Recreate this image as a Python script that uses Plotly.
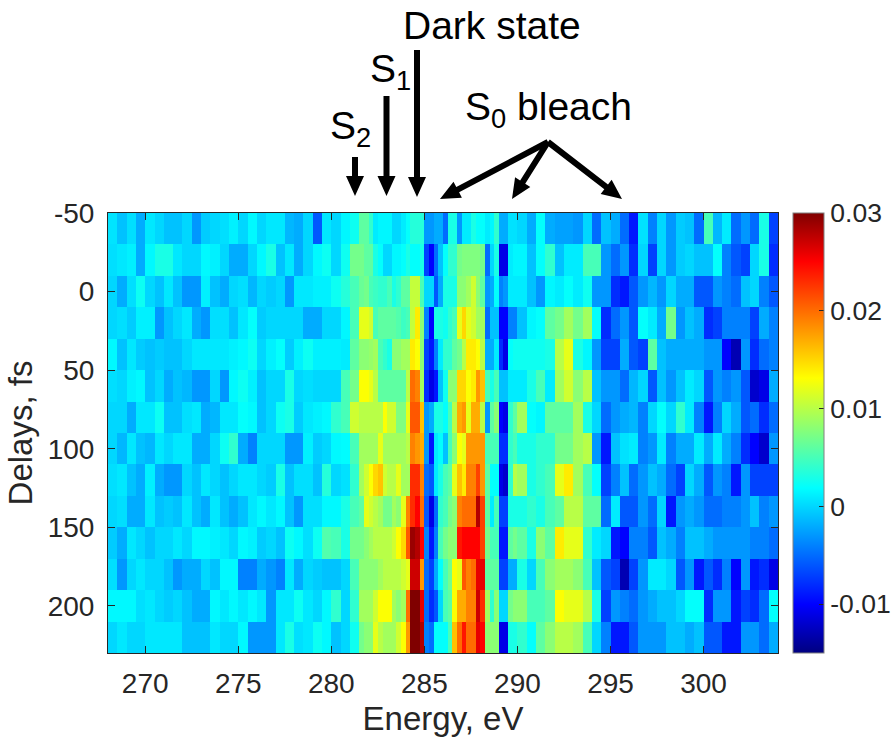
import numpy as np
import plotly.graph_objects as go

delays = [-40, -20, 0, 20, 40, 60, 80, 100, 120, 140, 160, 180, 200, 220]
energy_edges = np.concatenate([np.arange(268, 281.5, 0.5), np.arange(281.5, 290, 0.25), np.arange(290, 304.01, 0.5)])

# values in units of 0.001; low-energy part (268-281.5 eV, 0.5 eV columns)
low = [
 [0.6,-1,0.4,-2,0.8,0,-1,-1,0,-3,-0.5,0,0.4,1.2,0,1.6,0,0.8,0.8,-1.5,-2,0,-6,0.8,0,1.5,2.5],
 [0.4,0.8,1.2,-2,1.6,3,3,0.8,0,0,1.6,1.2,0,-2,-2,0,1.6,3,-1,0.8,-2,0,1.6,2.4,0,2.5,7],
 [0,-2,0.4,2.4,0,-1,0.8,-1,-3,-3,1.2,-1,-2,0,0.4,-1.5,0,-0.5,0,-3,0.8,0.8,1.2,1.2,2.4,3.5,5],
 [0,0.4,-0.5,1.2,1.2,-3,-1,0,0.8,-2,-3,0.4,0.4,-1,0.8,2,-0.5,0,0,0,0,-2,-2,0,0,1.5,5],
 [1.6,-1,0.8,-0.5,-1,-0.5,-1,-1,0,0.8,0.8,0.8,0.8,1.2,1.6,2.4,0,1.2,2,-0.5,1.2,2.4,1.2,1.2,1.2,1,6],
 [0.4,0,1.2,1.6,-1,0,-2,-1,-1.5,-3,-3,0,-3,1.6,2.4,1.2,-1,0,0,3,0,0.4,0,0,0,5,7],
 [0,0,-2,0.8,0.8,2.4,-1,-1,0.4,0.8,-2,-1.5,0.8,0.8,2,1.6,-1,0,2.4,3,-0.5,0.8,1.2,1.6,4,5,11],
 [0,-1.5,0.8,-1,-1.5,0.8,0,0.8,0.8,-2,-2,0,2.4,4,-2,-4,0,0,0,-3,-3,1.2,-0.5,0,1.6,1.8,5],
 [0.4,0.8,-1,-2,1.2,-2,-3,-3,0,-1,0.8,0,-1,0,0.8,0.8,0,-0.5,3,-1,0.4,0.4,-1,3.5,0,0.5,4],
 [0,0.4,-2,-2,0.8,-1,-0.5,-1,0.8,-1,-2,0.8,-1,-2,-1,0.8,1.6,0.8,1.6,-1,-3,0.4,0.4,1.6,1.6,3,5],
 [-0.5,-2,0.8,0,-1,0,0,0.8,0,1.6,1.6,1.2,0.8,0,1.6,1.2,-0.5,0,-1,2.4,1.6,0.4,2.4,5.5,5,3,7],
 [0.4,-3,0,0.8,0,0,-1,-3,-2,-2,0,-1,1.6,1.6,-4,-4,-2,-3,-4,0.8,-2,0,-0.5,-1,-1,0,5],
 [1.6,1.6,1.6,0.4,0.8,0,-0.5,0,-1,-2,-2,1.6,0.8,1.6,0.8,1.6,0.8,-3,0.8,0.8,2.4,0.8,0,1.6,4,0,4],
 [0,0.8,0,0,0.8,0.8,0.8,0.8,-1,-1,-1,0.8,0,0,1.6,-3,-3,-3,0.8,3,0.4,0.8,2.4,1.6,-1,0,2.5],
]

# central part (281.5-290 eV, 0.25 eV columns)
mid = [
 [6,6,4,1,1.5,1.5,1.5,0,0,1,2,3.5,3.5,3.5,-3,-3,-2,-2,-5,3,3,-3,1,1,3,2,2,1,1.5,4,-2,-2,0.5,0.5],
 [7,6,6,3,2,0,0,1.5,1.5,2,3,2,2,3,-7,-10,-5,-1,2,4,4,7,7.5,7.5,7.5,7.5,7,-5,0,3,-11,-11,1,1.5],
 [6.5,7,5,4.5,4,4,5,3,4,6,6,10.5,10.5,5,0,0,-6,-2,3,3,3,8,8,9,11,8,6,-3,-2,2,-4,-3,1,1],
 [12,12,11,5,6,6,6,6,5.5,4.5,5,10.5,14,8,-4,-10,3,3,2.5,4,5,12,15,12,11,9,9,-5,-1,-1,-10,-10,-4,-4],
 [8,8,8.5,9,5,4,3,8,8,9,9,14,13,8,-7,-9,-4,1,4,4,6,7,10,14,14,13,10,-2,-2,1,-8,-11,2,2.5],
 [13,13,12,10,6,6,6,6,6,6,10,20,19,9,-8,-11,-9,-1,2.5,8,8,15,15,13,14,18,16,5,3,5,-1,-1,1,1],
 [10,10,10,10,10,13,11,11,7.5,7.5,12,21,21,16,-3,-2,3,3,2,5,10,17,18,12,17,17,10,-3,6,8,-10,-11,4,6],
 [9,9,9,9,12,9,9,9,9,9,10,19,18,17,-3,-9,1,2,-1,5,8,13,12,18,18,18,18,5,5,5,-8,-8,4,5],
 [9,11,13,15,16,11,10,10,12,9,9,23,23,19,-5,-6,1,3,5,6,12,16,14,19,19,22,18,6,2,2,-11,-12,4,10],
 [6,12,11,10,9,7,7,9,8,12,19,23,25,20,-6,-11,-5,4,5,7,8,19,20,20,20,28,22,6,1,5,-7,-7,3,3],
 [7,8,9,10,10,10,10,11,13,15,21,29,28,25,-4,-9,-4,5,7,8,8,24,25,25,25,25,22,7,5,5,-9,-9,6,7],
 [8,8,8,8,9,10,10,10,10,11,12,27,27,18,-5,-7,-2,2,5,7,13,12,21,19,20,26,26,6,6,6,-7,-7,-2,-2],
 [9,9,9,11,13,13,13,9,8,9,20,30,30,26,-5,-8,-6,0,5,6,13,17,17,19,19,27,23,9,4,8,0,0,7,8],
 [7,8,8,12,10,9,9,9,11,13,18,30,30,28,-4,-5,2,2,2,5,16,20,24,20,20,26,25,8,8,8,-11,-11,3,3],
]

# high-energy part (290-304 eV, 0.5 eV columns)
high = [
 [0,-2,2,-2,-2.5,-2.5,-3,0,-5,-1,-2,-5,-9,0.5,-4,0,-3,-0.5,-1,-5,5,-1.5,1,-5,-3,-5,3,-7],
 [1.5,-1,2,4,-1,1,1,5,5,-3,-5,-3,-8,0,-7,0,-3,-0.5,0,-1,-1,2,-4,-6,-7,0,3,-8],
 [1,-1,-3,1.5,1,2,1,2.5,-3,-3,-8,-9,-6,-3,-1.5,-3,0,-2,-2,-6,-6,-3,-4,-5,-1,0,-4,-6],
 [-1,1.5,2,6,7,9,7,9,2,-8,-5,-3,-6,2,1,-2,7,-3,-1,-2,-8,-7,-4,-4,-4,-7,-2,-4],
 [2.5,2.5,2.5,3,10,12,3,1.5,-3,-7,-7,-2,-6,-7,6,-1,-2,-2,-2,-2,-3,-3,-10,-13,-3,-8,-5,-4],
 [1,3,5,1,9,11,8,10,-1,-3,-3,-5,-1.5,0,-6,-1,-3,-1,1,0,-6,-3,-4,-3,-6,-12,-11,-2],
 [9,2,1.5,6,6,6,9,3,0,-5,-3,-2,-1.5,-4,0,2,0,4,1,-4,-9,-4,0,-2,-6,-5,-8,-5],
 [3,3,4,4,7,7,9,10,-3,-9,-1,0.5,1,-4,-3,1,-4,-2,-2,1,-2,1,-2,-4,-8,-10,-12,-3],
 [9,3,4,5,12,14,9,5,2,-7,-4,-1,-5,-3,-1,-2,-5,-7,0,-2,-6,-3,-4,-9,-3,-7,-7,-7],
 [3,4,3,5,6,10,10,6,6,-5,1,-6,-6,-3,-5,0,-9,-3,-2,-3,-5,-5,-4,-4,-3,-1,-4,-3],
 [6,3,8,6,14,12,12,4,1,0,-9,-10,-4,-4,-6,-1,-2,-4,-1,-1,-2,-3,-3,-3,-3,-4,-4,-5],
 [3,0,5,8,9,9,8,5,-1,-6,-7,-13,-7,-3,1,1,0,-6,-3,-9,-6,-8,-4,-10,-3,-9,-8,-11],
 [8,5,5,6,13,12,12,10,3,-7,-3,-4,-5,-3,-2,-1,-1,0,2,2,-8,-3,-3,-9,-7,-8,-5,2],
 [4,2,6,8,10,10,9,5,0,-4,-9,-9,-6,-3,-3,-3,-1,-1,-2,-1,-6,-6,-9,-9,-3,-3,-5,-2],
]

x_ticks = [270, 275, 280, 285, 290, 295, 300]
y_ticks = [-50, 0, 50, 100, 150, 200]
y_labels = ["-50", "0", "50", "100", "150", "200"]
cbar_ticks = [0.03, 0.02, 0.01, 0, -0.01]
cbar_labels = ["0.03", "0.02", "0.01", "0", "-0.01"]

signal = np.hstack([np.array(low), np.array(mid), np.array(high)]) * 0.001

jet = [[0, "#000080"], [0.11, "#0000ff"], [0.375, "#00ffff"], [0.625, "#ffff00"], [0.89, "#ff0000"], [1, "#800000"]]
FONT = "Liberation Sans, Arial, sans-serif"
INK = "#262626"

PW, PH = 670.0, 440.0
def px(xp):
    return (xp - 108) / PW
def py(yp):
    return (653 - yp) / PH

fig = go.Figure(go.Heatmap(
    x=energy_edges, y=delays, z=signal, colorscale=jet, zmin=-0.015, zmax=0.03,
    colorbar=dict(
        x=px(793), xanchor="left", xpad=0, y=0.5, yanchor="middle", ypad=0, len=1, lenmode="fraction",
        thickness=31, thicknessmode="pixels", tickmode="array", tickvals=cbar_ticks, ticktext=cbar_labels,
        ticks="inside", ticklen=5, tickcolor=INK, tickfont=dict(family=FONT, size=26.5, color=INK),
        outlinecolor="#808080", outlinewidth=1),
))

# The figure is a little larger than the window so the labels do not shrink the plot area.
fig.update_layout(
    width=940, height=770, autosize=False, paper_bgcolor="white", plot_bgcolor="white",
    margin=dict(l=108, r=162, t=213, b=117),
    font=dict(family=FONT, color=INK),
    xaxis=dict(range=[268, 304], tickmode="array", tickvals=x_ticks, ticks="inside", ticklen=7, ticklabelstandoff=5,
               tickcolor=INK, tickwidth=1, showline=True, linecolor=INK, linewidth=1, mirror="ticks", showgrid=False,
               zeroline=False, tickfont=dict(size=28, color=INK),
               title=dict(text="Energy, eV", font=dict(size=33, color=INK), standoff=9)),
    yaxis=dict(range=[230, -50], tickmode="array", tickvals=y_ticks, ticktext=y_labels, ticks="inside", ticklen=7,
               ticklabelstandoff=7, tickcolor=INK, tickwidth=1, showline=True, linecolor=INK, linewidth=1,
               mirror="ticks", showgrid=False, zeroline=False, tickfont=dict(size=28, color=INK),
               title=dict(text="Delays, fs", font=dict(size=33, color=INK), standoff=5)),
)

labels = [("Dark state", 492, 26), ("S<sub>1</sub>", 390, 71), ("S<sub>2</sub>", 350, 128), ("S<sub>0</sub> bleach", 548, 109)]
for text, xp, yp in labels:
    fig.add_annotation(text=text, x=px(xp), y=py(yp), xref="paper", yref="paper", showarrow=False,
                       font=dict(family=FONT, size=39, color="black"), xanchor="center", yanchor="middle")

arrows = [(355, 157, 355, 196), (386.5, 96, 386.5, 196), (417, 50, 417, 197),
          (548, 142, 440, 199), (548, 142, 512, 199), (548, 142, 622, 199)]
HEAD_L, HEAD_W, SHAFT_W = 20.0, 9.0, 3.0
for x0, y0, x1, y1 in arrows:
    d = np.array([x1 - x0, y1 - y0], float)
    d /= np.hypot(*d)
    n = np.array([-d[1], d[0]])
    a, tip = np.array([x0, y0], float), np.array([x1, y1], float)
    base = tip - d * HEAD_L
    pts = [a + n * SHAFT_W, base + n * SHAFT_W, base + n * HEAD_W, tip, base - n * HEAD_W, base - n * SHAFT_W, a - n * SHAFT_W]
    path = "M " + " L ".join(f"{px(p[0]):.5f} {py(p[1]):.5f}" for p in pts) + " Z"
    fig.add_shape(type="path", path=path, xref="paper", yref="paper", fillcolor="black", line=dict(width=0))

fig.write_html("out.html", post_script="document.body.style.margin='0';document.body.style.overflow='hidden';document.documentElement.style.overflow='hidden';",
               config={"displayModeBar": False})
